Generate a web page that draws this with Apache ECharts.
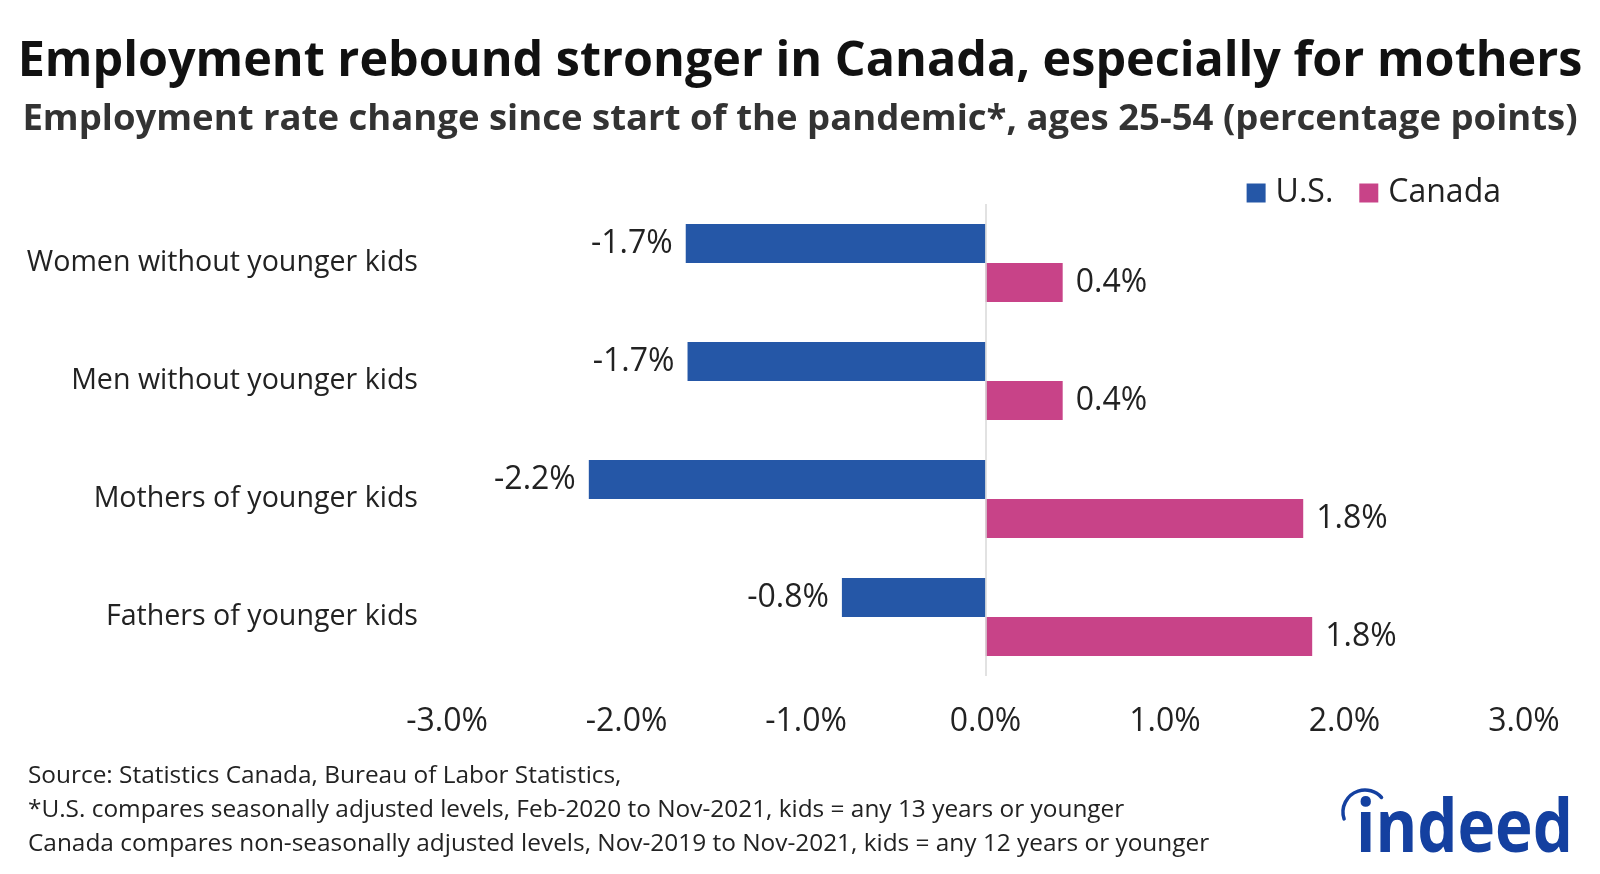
<!DOCTYPE html>
<html><head><meta charset="utf-8">
<script src="https://cdn.jsdelivr.net/npm/echarts@6/dist/echarts.min.js"></script>
<style>html,body{margin:0;padding:0;background:#fff}#c{width:1600px;height:874px}</style>
</head><body><div id="c"></div>
<script>
const categories = ["Women without younger kids","Men without younger kids","Mothers of younger kids","Fathers of younger kids"];
const usValues = [-1.67, -1.66, -2.21, -0.80];
const canadaValues = [0.43, 0.43, 1.77, 1.82];
const seriesNames = ["U.S.","Canada"];
const xTicks = [-3,-2,-1,0,1,2,3];
const titleText = "Employment rebound stronger in Canada, especially for mothers";
const subtitleText = "Employment rate change since start of the pandemic*, ages 25-54 (percentage points)";
const footLines = ["Source: Statistics Canada, Bureau of Labor Statistics,",
 "*U.S. compares seasonally adjusted levels, Feb-2020 to Nov-2021, kids = any 13 years or younger",
 "Canada compares non-seasonally adjusted levels, Nov-2019 to Nov-2021, kids = any 12 years or younger"];

const FONT = "'Open Sans', 'Noto Sans', sans-serif";
const LOGO = '#1440A0';
const chart = echarts.init(document.getElementById('c'));
const lbl = (pos) => ({show:true, position:pos, distance:13, fontFamily:FONT, fontSize:32, color:'#222',
  formatter: p => p.value.toFixed(1) + '%'});
chart.setOption({
  backgroundColor:'#fff',
  animation:false,
  title:[
    {text:titleText, left:'center', top:33, textStyle:{fontFamily:FONT, fontWeight:'bold', fontSize:48.5, color:'#111'}},
    {text:subtitleText, left:'center', top:96, textStyle:{fontFamily:FONT, fontWeight:'bold', fontSize:36.5, color:'#333'}}
  ],
  legend:{data:seriesNames, right:94, top:172, itemWidth:19, itemHeight:19, itemGap:26, icon:'rect',
    textStyle:{fontFamily:FONT, fontSize:32, color:'#222', padding:[0,0,0,5]}},
  grid:{left:447, right:76, top:204, height:472},
  xAxis:{type:'value', min:xTicks[0], max:xTicks[xTicks.length-1], interval:1,
    axisLine:{show:false}, axisTick:{show:false}, splitLine:{show:false},
    axisLabel:{margin:30, fontFamily:FONT, fontSize:32, color:'#222', formatter:v=>v.toFixed(1)+'%'}},
  yAxis:{type:'category', data:categories, inverse:true,
    axisLine:{show:false, onZero:false}, axisTick:{show:false},
    axisLabel:{margin:29, fontFamily:FONT, fontSize:28.6, color:'#222'}},
  series:[
    {name:seriesNames[0], type:'bar', data:usValues, barGap:'0%', barCategoryGap:'34%',
     itemStyle:{color:'#2557A7'}, label:lbl('left'),
     markLine:{silent:true, symbol:'none', label:{show:false}, lineStyle:{color:'#d9d9d9', type:'solid', width:1.5},
       data:[{xAxis:0}]}},
    {name:seriesNames[1], type:'bar', data:canadaValues,
     itemStyle:{color:'#C84388'}, label:lbl('right')}
  ],
  graphic:[
    {type:'text', left:28, top:759, style:{text:footLines.join('\n'), lineHeight:34, fontFamily:FONT, fontSize:24.4, fill:'#222'}},
    {type:'text', x:1356, y:794, scaleX:0.86, style:{text:'indeed', fontFamily:FONT, fontWeight:'bold', fontSize:74, fill:LOGO}},
    {type:'arc', shape:{cx:1365, cy:812, r:22, startAngle:-3.46, endAngle:-0.72, clockwise:true}, style:{stroke:LOGO, lineWidth:3.5, fill:null, lineCap:'round'}}
  ]
});
</script></body></html>
